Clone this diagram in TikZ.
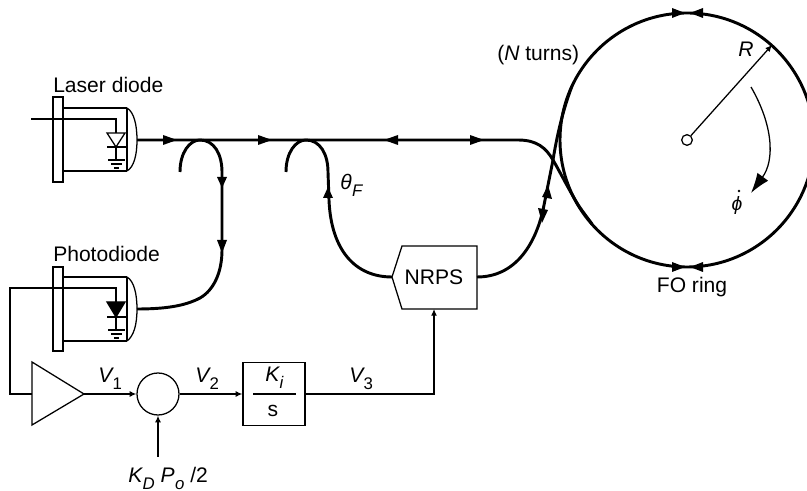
\documentclass[tikz,border=0pt]{standalone}
\usepackage{fontspec}
\setmainfont{Liberation Sans}
\usetikzlibrary{arrows.meta}
\tikzset{
 x=0.75pt,y=-0.75pt,
 thin line/.style={line width=0.95pt,line join=miter},
 fibre/.style={line width=2.2pt},
 lbl/.style={inner sep=0pt,font=\fontsize{15.8}{18}\selectfont},
 small/.style={thin line,-{Latex[length=5pt,width=4.5pt]}}
}
\newcommand{\rtri}[3]{\fill (#1,#2-5) -- (#1+#3,#2) -- (#1,#2+5) -- cycle;}
\newcommand{\utri}[3]{\fill (#1-5,#2) -- (#1,#2+#3) -- (#1+5,#2) -- cycle;}
\newcommand{\sbx}[1]{\kern0.3pt\raisebox{-4.6pt}{\fontsize{12.6}{14}\selectfont #1}}
\begin{document}
\begin{tikzpicture}
\useasboundingbox (0,0) rectangle (807,491);
\clip (0,0) rectangle (807,491);
% Laser diode
\node[lbl,anchor=base west] (ldl) at (53,93) {Laser diode};
\draw[thin line] (53,97) rectangle (63,182);
\draw[thin line] (63,108) -- (127,108) (63,171) -- (127,171);
\draw[line width=1.5pt] (127,108) -- (127,171);
\draw[thin line] (127,108) .. controls (134,112) and (137,125) .. (137,140) .. controls (137,155) and (134,167) .. (127,171);
\draw[thin line] (31,119) -- (116,119) -- (116,133);
\draw[thin line] (107,133) -- (125,133) -- (116,147) -- cycle;
\draw[thin line] (107,147) -- (126,147) (116,147) -- (116,160);
\draw[thin line] (108,160) -- (125,160) (111,164) -- (122,164) (114,168) -- (119,168);
% Photodiode
\node[lbl,anchor=base west] (pdl) at (53,262) {Photodiode};
\draw[thin line] (53,267) rectangle (63,351);
\draw[thin line] (63,277) -- (127,277) (63,341) -- (127,341);
\draw[line width=1.5pt] (127,277) -- (127,341);
\draw[thin line] (127,277) .. controls (134,281) and (137,294) .. (137,309) .. controls (137,324) and (134,336) .. (127,341);
\draw[thin line] (32,394) -- (10,394) -- (10,288) -- (116,288) -- (116,302);
\draw[thin line,fill=black] (107,302) -- (125,302) -- (116,317) -- cycle;
\draw[thin line] (107,317) -- (126,317) (116,317) -- (116,330);
\draw[thin line] (108,330) -- (125,330) (111,334) -- (122,334) (114,338) -- (119,338);
% fibres
\draw[fibre] (137,140) -- (518,140) .. controls (537,140) and (546,148) .. (553,160) .. controls (560,172) and (568,188) .. (577,203) .. controls (582,211) and (587,217) .. (592,224);
\draw[fibre] (180,172) .. controls (180,152) and (190,140) .. (200,140) .. controls (214,140) and (222,154) .. (222,172) -- (222,250) .. controls (222,272) and (214,290) .. (200,298) .. controls (185,306) and (165,309) .. (137,309);
\draw[fibre] (286,172) .. controls (286,152) and (296,140) .. (306,140) .. controls (320,140) and (328,154) .. (328,172) -- (329,200) .. controls (331,250) and (355,277) .. (392,277);
\draw[fibre] (477,277) .. controls (515,277) and (535,245) .. (543,210) -- (553,160) .. controls (557,135) and (563,110) .. (572,86);
\draw[fibre] (687,140) circle (127);
% arrowheads on fibres
\rtri{163}{140}{14}
\rtri{258}{140}{14}
\rtri{398}{140}{-14}
\rtri{470}{140}{14}
\utri{222}{177}{11}
\utri{222}{240}{13}
\utri{328}{198}{-11}
\rtri{672}{13}{13}
\rtri{703}{13}{-13}
\rtri{672}{267}{13}
\rtri{703}{267}{-13}
\fill (548,185) -- (552,199) -- (542,197) -- cycle;
\fill (542,223) -- (538,208) -- (548,210) -- cycle;
% ring labels
\node[draw,thin line,circle,minimum size=8pt,inner sep=0pt] (ctr) at (687,140) {};
\coordinate (rim) at (772,45);
\draw[small] (ctr) -- (rim);
\draw[thin line,-{Latex[length=15pt,width=10pt]}] (751,87) .. controls (773,125) and (775,160) .. (751,193);
\node[lbl,anchor=base west] (rl) at (738,57) {\itshape R};
\node[lbl,anchor=base] (ph) at (737,211) {\fontsize{14.5}{16}\selectfont\itshape ϕ};
\fill (739,191) circle (1.4);
\node[lbl,anchor=base] (fo) at (692,293) {FO ring};
\node[lbl,anchor=base west] (nt) at (497,61) {(\textit{N} turns)};
\node[lbl,anchor=base west] (th) at (340,190) {\itshape θ\sbx{F}};
% NRPS
\node[lbl] (nr) at (434,277) {NRPS};
\draw[thin line] (402,246) -- (477,246) -- (477,309) -- (402,309) -- (392,277) -- cycle;
% control chain
\draw[thin line] (32,362) -- (32,425) -- (84,394) -- cycle;
\node[draw,thin line,circle,minimum size=31.5pt,inner sep=0pt] (sum) at (158,394) {};
\node[draw,thin line,minimum width=46.5pt,minimum height=47.25pt,inner sep=0pt] (ki) at (274,394) {};
\coordinate (amp) at (84,394);
\coordinate (kd) at (158,457);
\coordinate (nrb) at (434,309);
\draw[small] (amp) -- (sum);
\draw[small] (sum) -- (ki);
\draw[small] (kd) -- (sum);
\draw[small] (ki.east) -- (434,394) -- (nrb);
\draw[thin line] (253,394) -- (296,394);
\node[lbl,anchor=base west] (kil) at (265,382) {\itshape K\sbx{i}};
\node[lbl,anchor=base] (sl) at (273,417) {s};
\node[lbl,anchor=base west] (v1) at (98,383) {\itshape V\sbx{\upshape 1}};
\node[lbl,anchor=base west] (v2) at (195,383) {\itshape V\sbx{\upshape 2}};
\node[lbl,anchor=base west] (v3) at (349,383) {\itshape V\sbx{\upshape 3}};
\node[lbl,anchor=base west] (kdl) at (128,483) {\itshape K\sbx{D} P\sbx{o} \upshape /2};
\end{tikzpicture}
\end{document}
